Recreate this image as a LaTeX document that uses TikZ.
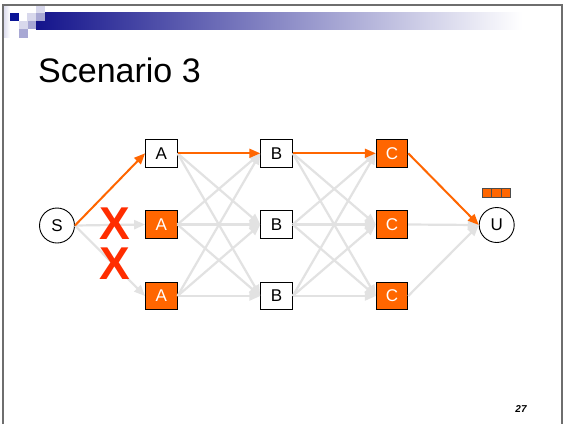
\documentclass[tikz,border=0pt]{standalone}
\usepackage{fontspec}
\setmainfont{Liberation Sans}
\usetikzlibrary{arrows.meta}
\definecolor{navy}{RGB}{20,20,140}
\definecolor{deepblue}{RGB}{10,20,150}
\definecolor{lav}{RGB}{216,216,236}
\definecolor{lavmid}{RGB}{168,168,212}
\definecolor{framegray}{RGB}{110,110,110}
\definecolor{hot}{RGB}{255,102,0}
\definecolor{edgegray}{RGB}{226,226,226}
\definecolor{crossred}{RGB}{255,45,0}
\tikzset{
  stage/.style={draw=black, line width=0.9pt, minimum width=31.5pt, minimum height=27.5pt,
    inner sep=0pt, font=\fontsize{17}{17}\selectfont},
  busy/.style={stage, fill=hot, text=white},
  idle/.style={stage, fill=white},
  endpoint/.style={circle, draw=black, line width=0.9pt, minimum size=35pt, inner sep=0pt,
    font=\fontsize{17}{17}\selectfont},
  token/.style={draw=black!70, line width=0.7pt, fill=hot, minimum width=9.1pt, minimum height=9pt, inner sep=0pt},
  grayedge/.style={draw=edgegray, line width=2.2pt, -{Triangle[length=11pt,width=9pt]}},
  hotedge/.style={draw=hot, line width=2pt, -{Triangle[length=11pt,width=9pt]}},
  cross/.style={text=crossred, inner sep=0pt, font=\fontsize{46}{46}\selectfont\bfseries}
}
\begin{document}
\begin{tikzpicture}[x=1pt,y=-1pt]
\useasboundingbox (0,0) rectangle (564,424);
\fill[white] (0,0) rectangle (564,424);

% header bar and corner squares
\shade[left color=navy, right color=white] (36,12) rectangle (522,29);
\shade[left color=lav, right color=white] (3,5) rectangle (10,37);
\fill[deepblue] (10,12.5) rectangle (19,21);
\fill[lav] (27,12.5) rectangle (36,21);
\fill[lav] (19,21) rectangle (27.5,29);
\fill[lavmid] (27.5,21) rectangle (36,29);
\fill[lav] (36,4.5) rectangle (44.5,12.5);
\fill[lavmid] (36,12.5) rectangle (44.5,21);
\fill[lavmid] (19,29) rectangle (27.5,37.5);

% slide frame
\draw[framegray, line width=1.5pt] (3,424) -- (3,5) -- (562,5) -- (562,424);

% title
\node[anchor=base west, inner sep=0pt, font=\fontsize{34}{40}\selectfont] (title) at (38,82) {Scenario 3};

% nodes
\node[endpoint] (S) at (57,225.5) {S};
\node[endpoint] (U) at (496.7,225) {U};
\node[idle] (A1) at (161.3,153.3) {A};
\node[busy] (A2) at (161.3,224.5) {A};
\node[busy] (A3) at (161.3,296) {A};
\node[idle] (B1) at (276.5,153.3) {B};
\node[idle] (B2) at (276.5,224.5) {B};
\node[idle] (B3) at (276.5,296) {B};
\node[busy] (C1) at (392,153.3) {C};
\node[busy] (C2) at (392,224.5) {C};
\node[busy] (C3) at (392,296) {C};

% queue tokens above U
\node[token] (t1) at (487.2,193.2) {};
\node[token] (t2) at (496.3,193.2) {};
\node[token] (t3) at (505.4,193.2) {};

% idle links
\draw[grayedge] (S.east) -- (A2.west);
\draw[grayedge] (S.east) -- (A3.west);
\foreach \i/\j in {1/2,1/3,2/1,2/2,2/3,3/1,3/2,3/3} {
  \draw[grayedge] (A\i.east) -- (B\j.west);
}
\foreach \i/\j in {1/2,1/3,2/1,2/2,2/3,3/1,3/2,3/3} {
  \draw[grayedge] (B\i.east) -- (C\j.west);
}
\draw[grayedge] (C2.east) -- (U.west);
\draw[grayedge] (C3.east) -- (U.west);

% chosen path
\draw[hotedge] (S.east) -- (A1.west);
\draw[hotedge] (A1.east) -- (B1.west);
\draw[hotedge] (B1.east) -- (C1.west);
\draw[hotedge] (C1.east) -- (U.west);

% blocked links
\node[cross] (x1) at (115.3,223.4) {X};
\node[cross] (x2) at (115.3,263.4) {X};

% page number
\node[font=\fontsize{10}{10}\selectfont\bfseries\itshape, inner sep=0pt] (page) at (521,409) {27};
\end{tikzpicture}
\end{document}
